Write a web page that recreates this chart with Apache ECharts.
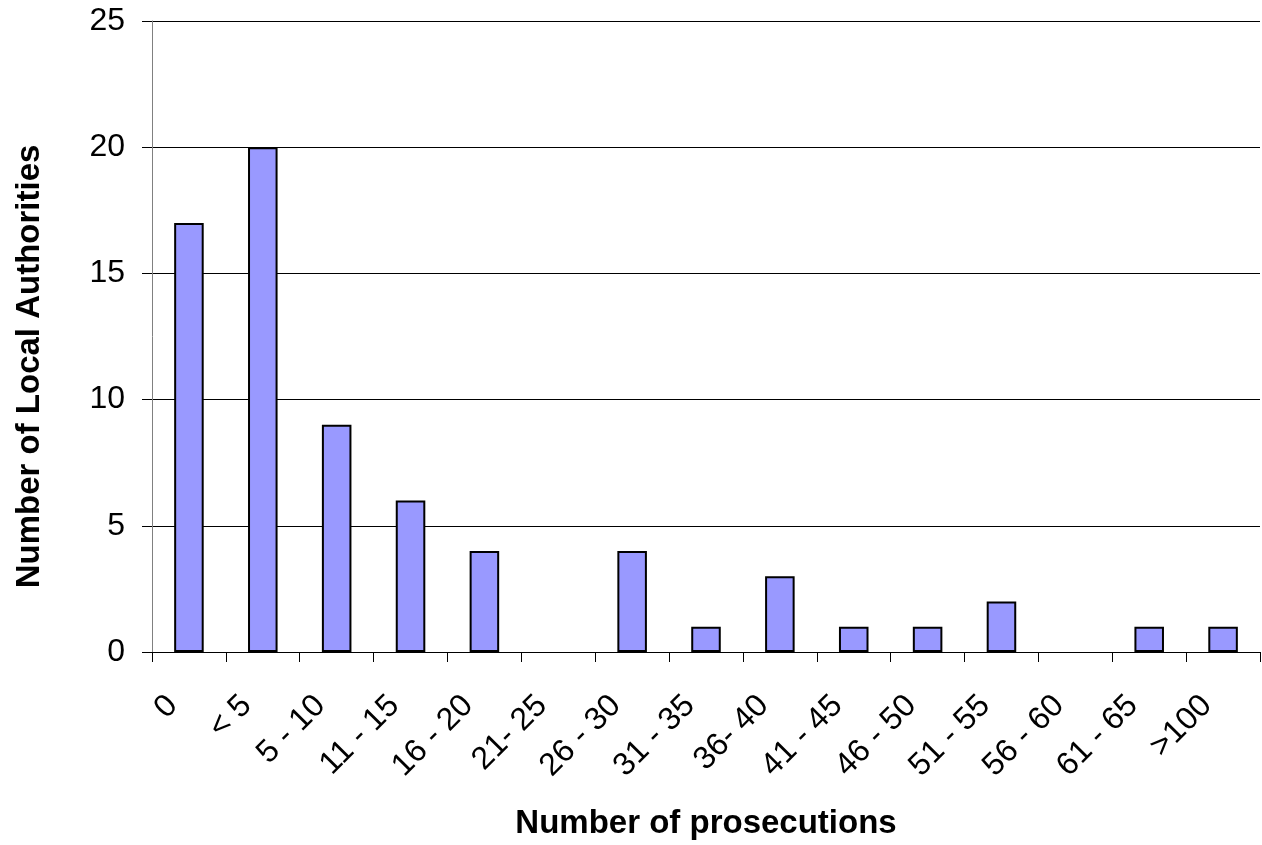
<!DOCTYPE html>
<html>
<head>
<meta charset="utf-8">
<script src="https://cdn.jsdelivr.net/npm/echarts@6/dist/echarts.min.js"></script>
<style>
  html, body { margin: 0; padding: 0; background: #fff; }
  #chart { width: 1262px; height: 845px; }
</style>
</head>
<body>
<div id="chart"></div>
<script>
// Prosecution bands and how many local authorities fall in each
const categories = ['0', '< 5', '5 - 10', '11 - 15', '16 - 20', '21- 25', '26 - 30', '31 - 35',
  '36- 40', '41 - 45', '46 - 50', '51 - 55', '56 - 60', '61 - 65', '>100'];
const authorities = [17, 20, 9, 6, 4, 0, 4, 1, 3, 1, 1, 2, 0, 1, 1];
const yTicks = { min: 0, max: 25, interval: 5 };

const font = '"Liberation Sans", Arial, sans-serif';
const chart = echarts.init(document.getElementById('chart'));

// Empty bands get no outline, so nothing is drawn on the baseline
const barData = authorities.map(v => ({
  value: v,
  itemStyle: v === 0 ? { borderWidth: 0, opacity: 0 } : undefined
}));

chart.setOption({
  animation: false,
  backgroundColor: '#ffffff',
  grid: { left: 152, right: 2, top: 21, bottom: 193, containLabel: false },
  xAxis: {
    type: 'category',
    data: categories,
    name: 'Number of prosecutions',
    nameLocation: 'middle',
    nameGap: 155,
    nameTextStyle: { fontFamily: font, fontSize: 33, fontWeight: 'bold', color: '#000' },
    axisLine: { lineStyle: { color: '#000', width: 1 } },
    axisTick: { show: true, length: 10, alignWithLabel: false, lineStyle: { color: '#000' } },
    axisLabel: {
      rotate: 45, interval: 0, margin: 65,
      verticalAlign: 'bottom', lineHeight: 46,
      fontFamily: font, fontSize: 32, color: '#000'
    },
    splitLine: { show: false }
  },
  yAxis: {
    type: 'value',
    min: yTicks.min,
    max: yTicks.max,
    interval: yTicks.interval,
    name: 'Number of Local Authorities',
    nameLocation: 'middle',
    nameGap: 106,
    nameTextStyle: {
      fontFamily: font, fontSize: 33, fontWeight: 'bold', color: '#000',
      padding: [0, 60, 0, 0]
    },
    axisLine: { show: true, lineStyle: { color: '#808080', width: 1 } },
    axisTick: { show: true, length: 10, lineStyle: { color: '#000' } },
    axisLabel: { margin: 27, fontFamily: font, fontSize: 32, color: '#000' },
    splitLine: { show: true, lineStyle: { color: '#000', width: 1 } }
  },
  series: [{
    type: 'bar',
    data: barData,
    barWidth: '40%',
    itemStyle: { color: '#9999FF', borderColor: '#000', borderWidth: 2 }
  }]
});
</script>
</body>
</html>
